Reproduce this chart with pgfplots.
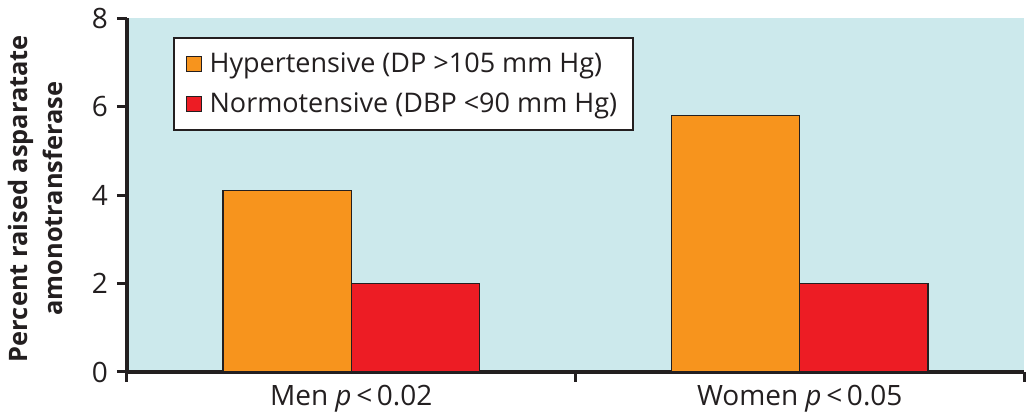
\documentclass[border=0pt]{standalone}
\usepackage{pgfplots}
\pgfplotsset{compat=1.18}
\usepackage{fontspec}
\setmainfont{Open Sans}
\definecolor{bgc}{RGB}{204,233,236}
\definecolor{orng}{RGB}{247,148,29}
\definecolor{rd}{RGB}{237,28,36}
\definecolor{txt}{RGB}{35,31,32}
\begin{document}
\begin{tikzpicture}
\useasboundingbox (-63.5pt,-22.5pt) rectangle (451pt,186pt);
\begin{axis}[
  scale only axis, width=448.5pt, height=177pt,
  xmin=0, xmax=2, ymin=0, ymax=8,
  axis lines=left,
  axis line style={-, line width=2pt, txt},
  axis background/.style={fill=bgc},
  ytick={0,2,4,6,8},
  xtick={0,1,2}, xticklabels={},
  extra x ticks={0.5,1.5},
  extra x tick labels={Men \textit{p}\,<\,0.02, Women \textit{p}\,<\,0.05},
  extra x tick style={major tick length=0pt, ticklabel style={yshift=-3pt}},
  tick align=outside, major tick length=5pt,
  tick style={line width=1.5pt, txt},
  /pgf/number format/assume math mode=true,
  ticklabel style={font=\fontsize{14}{16}\selectfont, text=txt},
  yticklabel style={xshift=-1pt},
  ylabel={Percent raised asparatate\\amonotransferase},
  ylabel style={at={(axis description cs:-0.102,0.49)}, anchor=center, align=center,
    font=\fontsize{12.7}{17.5}\selectfont\bfseries, text=txt},
  ybar=0pt, bar width=0.286,
  every axis plot post/.append style={legend image code/.code={\draw[#1, draw=txt, line width=0.6pt] (0pt,-3.75pt) rectangle (7.5pt,3.75pt); \path[draw=none, fill=none] (9.5pt,0pt) rectangle (9.5pt,0pt);}},
  legend style={at={(0.0513,0.946)}, anchor=north west, draw=txt, line width=1pt, fill=white,
    font=\fontsize{13.5}{15}\selectfont, text=txt, inner xsep=6pt, inner ysep=5.2pt, row sep=4.5pt},
  legend cell align=left,
]
\addplot[fill=orng, draw=txt, line width=0.6pt] coordinates {(0.5,4.1) (1.5,5.8)};
\addplot[fill=rd, draw=txt, line width=0.6pt] coordinates {(0.5,2.0) (1.5,2.0)};
\legend{Hypertensive (DP >105 mm Hg), Normotensive (DBP <90 mm Hg)\hspace{1.5pt}}
\end{axis}
\end{tikzpicture}
\end{document}
